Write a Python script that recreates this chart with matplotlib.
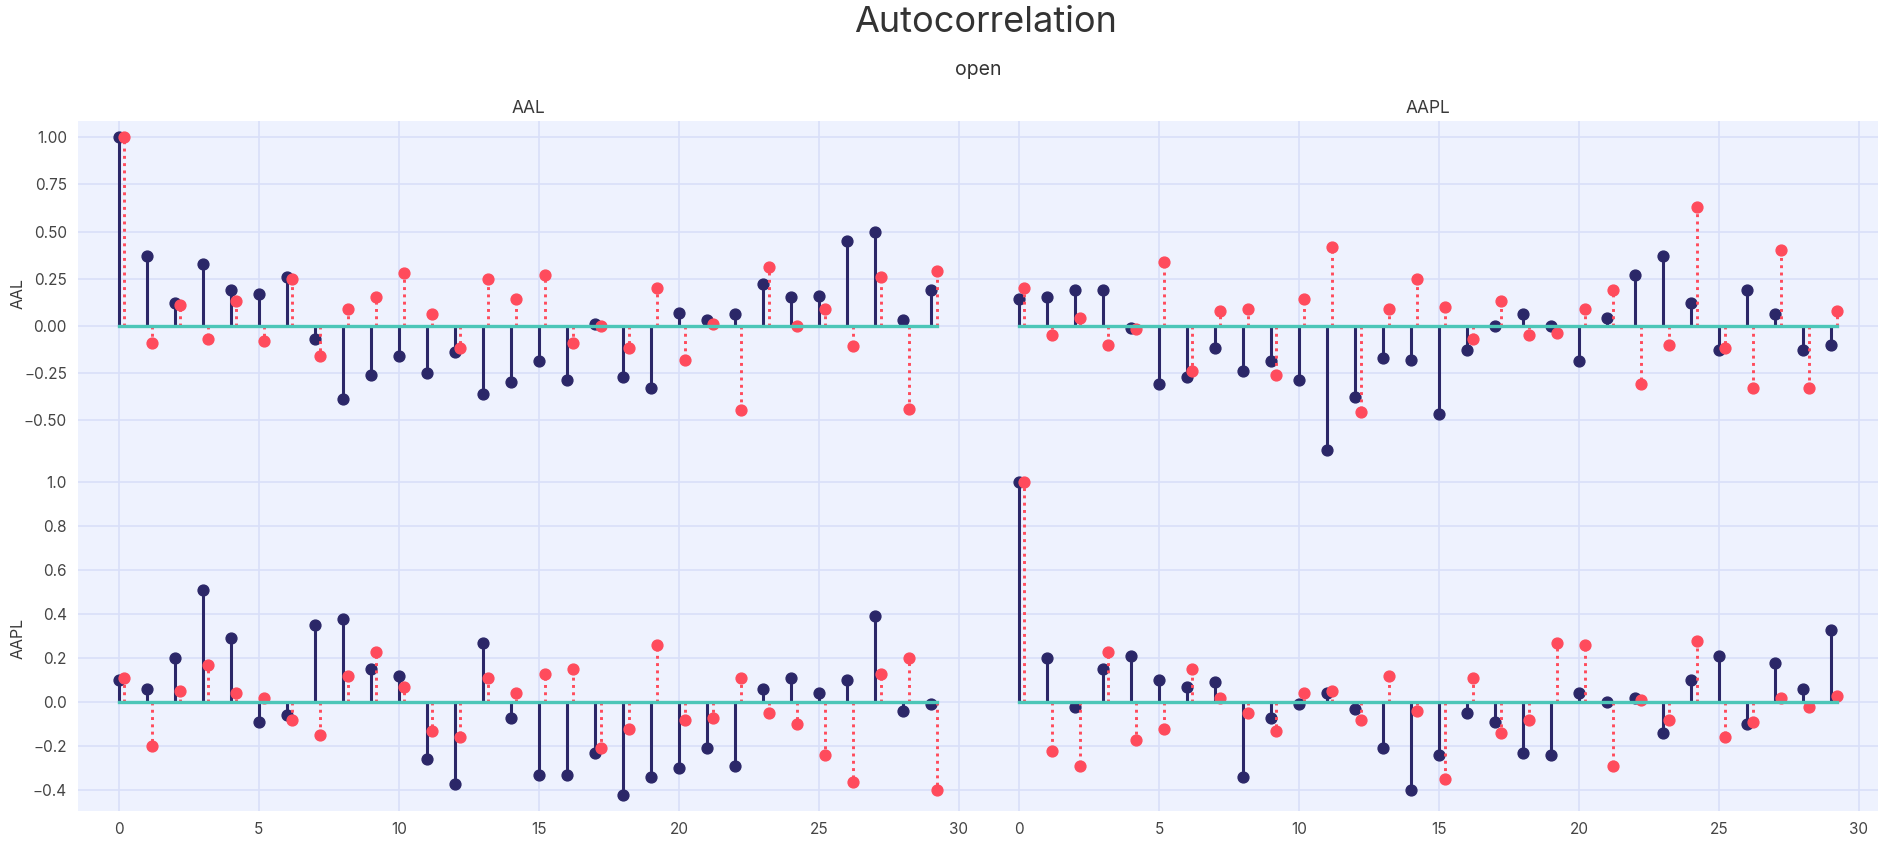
import matplotlib
matplotlib.use('Agg')
import matplotlib.pyplot as plt

plt.rcParams['font.family'] = ['Inter', 'DejaVu Sans']

lags = list(range(30))
tickers = ['AAL', 'AAPL']

# row = first ticker, column = second ticker
aal_aal_a = [1.00, 0.37, 0.12, 0.33, 0.19, 0.17, 0.26, -0.07, -0.39, -0.26, -0.16, -0.25, -0.14, -0.36, -0.30,
             -0.19, -0.29, 0.01, -0.27, -0.33, 0.07, 0.03, 0.06, 0.22, 0.15, 0.16, 0.45, 0.50, 0.03, 0.19]
aal_aal_b = [1.00, -0.09, 0.11, -0.07, 0.13, -0.08, 0.25, -0.16, 0.09, 0.15, 0.28, 0.06, -0.12, 0.25, 0.14,
             0.27, -0.09, 0.00, -0.12, 0.20, -0.18, 0.01, -0.45, 0.31, 0.00, 0.09, -0.11, 0.26, -0.44, 0.29]

aal_aapl_a = [0.14, 0.15, 0.19, 0.19, -0.01, -0.31, -0.27, -0.12, -0.24, -0.19, -0.29, -0.66, -0.38, -0.17, -0.18,
              -0.47, -0.13, 0.00, 0.06, 0.00, -0.19, 0.04, 0.27, 0.37, 0.12, -0.13, 0.19, 0.06, -0.13, -0.10]
aal_aapl_b = [0.20, -0.05, 0.04, -0.10, -0.02, 0.34, -0.24, 0.08, 0.09, -0.26, 0.14, 0.42, -0.46, 0.09, 0.25,
              0.10, -0.07, 0.13, -0.05, -0.04, 0.09, 0.19, -0.31, -0.10, 0.63, -0.12, -0.33, 0.40, -0.33, 0.08]

aapl_aal_a = [0.10, 0.06, 0.20, 0.51, 0.29, -0.09, -0.06, 0.35, 0.38, 0.15, 0.12, -0.26, -0.37, 0.27, -0.07,
              -0.33, -0.33, -0.23, -0.42, -0.34, -0.30, -0.21, -0.29, 0.06, 0.11, 0.04, 0.10, 0.39, -0.04, -0.01]
aapl_aal_b = [0.11, -0.20, 0.05, 0.17, 0.04, 0.02, -0.08, -0.15, 0.12, 0.23, 0.07, -0.13, -0.16, 0.11, 0.04,
              0.13, 0.15, -0.21, -0.12, 0.26, -0.08, -0.07, 0.11, -0.05, -0.10, -0.24, -0.36, 0.13, 0.20, -0.40]

aapl_aapl_a = [1.00, 0.20, -0.02, 0.15, 0.21, 0.10, 0.07, 0.09, -0.34, -0.07, -0.01, 0.04, -0.03, -0.21, -0.40,
               -0.24, -0.05, -0.09, -0.23, -0.24, 0.04, 0.00, 0.02, -0.14, 0.10, 0.21, -0.10, 0.18, 0.06, 0.33]
aapl_aapl_b = [1.00, -0.22, -0.29, 0.23, -0.17, -0.12, 0.15, 0.02, -0.05, -0.13, 0.04, 0.05, -0.08, 0.12, -0.04,
               -0.35, 0.11, -0.14, -0.08, 0.27, 0.26, -0.29, 0.01, -0.08, 0.28, -0.16, -0.09, 0.02, -0.02, 0.03]

panels = [[(aal_aal_a, aal_aal_b), (aal_aapl_a, aal_aapl_b)],
          [(aapl_aal_a, aapl_aal_b), (aapl_aapl_a, aapl_aapl_b)]]

top_yticks = [-0.5, -0.25, 0, 0.25, 0.5, 0.75, 1.0]
bottom_yticks = [-0.4, -0.2, 0, 0.2, 0.4, 0.6, 0.8, 1.0]
xticks = [0, 5, 10, 15, 20, 25, 30]

navy = '#2b2768'
red = '#ff4b5c'
teal = '#4cc6b8'
bg = '#eef2fe'
grid = '#d9dff9'
text_col = '#3a3a3a'
offset = 0.2

fig = plt.figure(figsize=(18.88, 8.59), dpi=100)

col_x = [(0.0413, 0.518), (0.518, 0.9947)]
row_y = [(0.4575, 0.8591), (0.0559, 0.4575)]
row_ylim = [(-0.745, 1.087), (-0.494, 1.074)]

for r in range(2):
    for c in range(2):
        x0, x1 = col_x[c]
        y0, y1 = row_y[r]
        ax = fig.add_axes([x0, y0, x1 - x0, y1 - y0])
        ax.set_facecolor(bg)
        a, b = panels[r][c]

        m, s, base = ax.stem(lags, a)
        s.set_color(navy)
        s.set_linewidth(2.2)
        m.set_color(navy)
        m.set_markersize(7.8)
        base.set_visible(False)

        lags_b = [l + offset for l in lags]
        m2, s2, base2 = ax.stem(lags_b, b)
        s2.set_color(red)
        s2.set_linewidth(2.1)
        s2.set_linestyle((0, (1, 1.5)))
        m2.set_color(red)
        m2.set_markersize(7.8)
        base2.set_visible(False)

        ax.plot([lags[0], lags_b[-1]], [0, 0], color=teal, lw=2.4, zorder=2.5)

        ax.set_xlim(-1.46, 30.68)
        ax.set_ylim(*row_ylim[r])
        ax.set_xticks(xticks)
        ax.set_yticks(top_yticks if r == 0 else bottom_yticks)
        if r == 0:
            ax.set_yticklabels([f'{v:.2f}'.replace('-', '\u2212') for v in top_yticks])
            ax.tick_params(labelbottom=False)
            ax.set_title(tickers[c], fontsize=12.5, color=text_col, pad=6)
        else:
            ax.set_yticklabels([f'{v:.1f}'.replace('-', '\u2212') for v in bottom_yticks])
        if c == 1:
            ax.tick_params(labelleft=False)
        else:
            fig.text(0.0095, (y0 + y1) / 2, tickers[r], rotation=90, ha='center', va='center',
                     fontsize=11.5, color=text_col)
        ax.tick_params(length=0, labelsize=11, colors='#444444', pad=8)
        ax.grid(True, color=grid, lw=1.2)
        ax.set_axisbelow(True)
        for sp in ax.spines.values():
            sp.set_visible(False)

fig.text(0.522, 0.974, 'Autocorrelation', ha='center', va='center', fontsize=26, color='#333333')
fig.text(0.518, 0.9185, 'open', ha='center', va='center', fontsize=14, color='#333333')

fig.savefig('out.png', dpi=100, facecolor='white')
